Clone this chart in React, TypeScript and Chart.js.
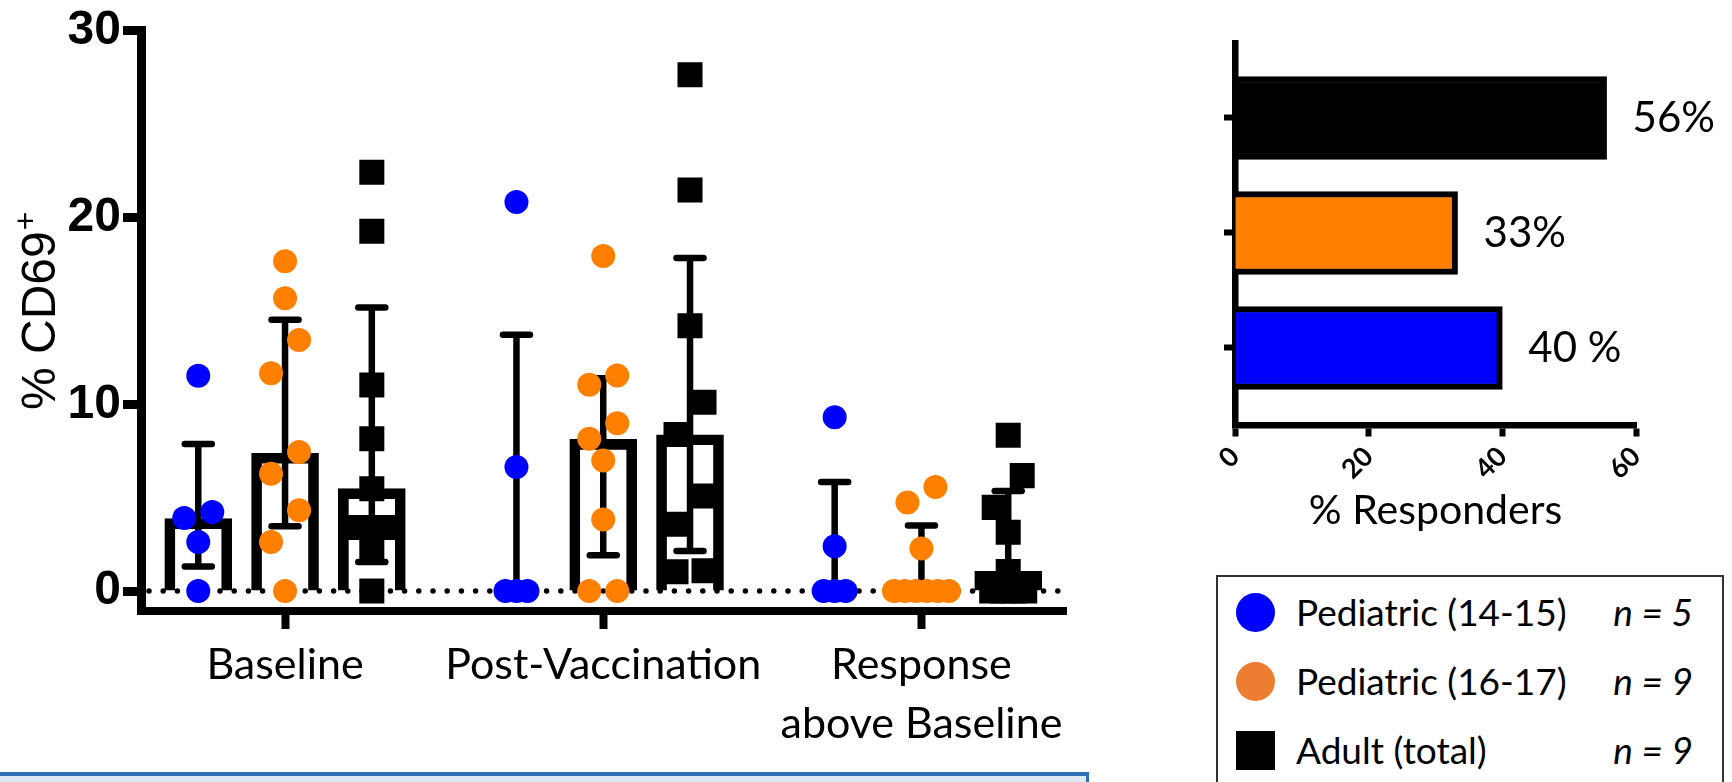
import React, { useEffect, useRef } from 'react';
import { Chart, registerables } from 'chart.js';

Chart.register(...registerables);

// ---------------- data ----------------
const categoryLabels: string[][] = [['Baseline'], ['Post-Vaccination'], ['Response', 'above Baseline']];
const seriesLabels = ['Pediatric (14-15)', 'Pediatric (16-17)', 'Adult (total)'];
const seriesN = ['n = 5', 'n = 9', 'n = 9'];
const seriesColors = ['#0000FF', '#FF8000', '#000000'];
const legendColors = ['#0000FF', '#ED7D31', '#000000'];
const yTitleMain = '% CD69';
const yTitleSup = '+';

const yTicks = [0, 10, 20, 30];
const responderTicks = [0, 20, 40, 60];

// individual values per category (Baseline, Post-Vaccination, Response above Baseline)
const ped1415Points = [
  [11.53, 4.23, 3.91, 2.63, 0],
  [20.83, 6.64, 0, 0, 0],
  [9.31, 2.4, 0, 0, 0],
];
const ped1617Points = [
  [17.66, 15.68, 13.44, 11.66, 7.44, 6.28, 4.32, 2.63, 0],
  [17.94, 11.54, 11.04, 8.99, 8.15, 6.99, 3.83, 0, 0],
  [5.57, 4.74, 2.28, 0, 0, 0, 0, 0, 0],
];
const adultPoints = [
  [22.43, 19.27, 11.03, 8.15, 5.48, 3.4, 3.4, 2.37, 0],
  [27.65, 21.48, 14.2, 10.11, 8.38, 5.09, 3.58, 1.08, 1.03],
  [8.34, 6.18, 4.48, 3.15, 1.05, 0, 0, 0, 0],
];

// bar heights (median)
const ped1415Bar = [3.88, 0, 0];
const ped1617Bar = [7.38, 8.12, 0];
const adultBar = [5.48, 8.37, 1.05];

// error bar ends (upper / lower; null = no lower cap)
const ped1415ErrHi = [7.87, 13.72, 5.84];
const ped1617ErrHi = [14.52, 11.39, 3.51];
const adultErrHi = [15.18, 17.83, 5.36];
const ped1415ErrLo: (number | null)[] = [1.31, null, null];
const ped1617ErrLo: (number | null)[] = [3.47, 1.92, null];
const adultErrLo: (number | null)[] = [1.55, 2.14, null];

// right panel: % responders (Ped 14-15, Ped 16-17, Adult)
const responderValues = [40, 33.3, 55.6];
const responderLabels = ['40 %', '33%', '56%'];

// ---------------- layout constants ----------------
const L_W = 1100;
const L_H = 770;
const L_AREA_LEFT = 141;
const L_AREA_RIGHT = 1066;
const L_AREA_TOP = 29;
const L_AREA_BOTTOM = 611;
const X_MIN = -1.66;
const X_MAX = 9.0;
const Y_MIN = -1.07;
const Y_MAX = 30;
const GROUP_STEP = 3.667;

const R_LEFT = 1100;
const R_W = 632;
const R_H = 560;

// beeswarm-like horizontal spreading, in pixels
function swarmOffsets(values: number[]): number[] {
  const idx = values.map((_, i) => i).sort((a, b) => values[b] - values[a]);
  const offsets = new Array(values.length).fill(0);
  let i = 0;
  while (i < idx.length) {
    const cluster = [idx[i]];
    let j = i + 1;
    while (j < idx.length && Math.abs(values[idx[j]] - values[idx[i]]) < 0.06) {
      cluster.push(idx[j]);
      j++;
    }
    if (cluster.length === 1 && j < idx.length && values[idx[i]] - values[idx[j]] < 1.8) {
      const nextEqual = j + 1 < idx.length && Math.abs(values[idx[j + 1]] - values[idx[j]]) < 0.06;
      if (!nextEqual) {
        cluster.push(idx[j]);
        j++;
      }
    }
    const k = cluster.length;
    cluster.forEach((p, n) => {
      if (k === 2) offsets[p] = n === 0 ? 14 : -14;
      else offsets[p] = (n - (k - 1) / 2) * 11;
    });
    i = j;
  }
  return offsets;
}

function LeftChart() {
  const ref = useRef<HTMLCanvasElement>(null);
  useEffect(() => {
    const allPoints = [ped1415Points, ped1617Points, adultPoints];
    const bars = [ped1415Bar, ped1617Bar, adultBar];
    const his = [ped1415ErrHi, ped1617ErrHi, adultErrHi];
    const los = [ped1415ErrLo, ped1617ErrLo, adultErrLo];
    const colPos = (g: number, s: number) => g * GROUP_STEP + (s - 1);
    const pxPerUnit = (L_AREA_RIGHT - L_AREA_LEFT) / (X_MAX - X_MIN);

    const barData: { x: number; y: number }[] = [];
    const errData: { x: number; hi: number; lo: number | null }[] = [];
    for (let g = 0; g < 3; g++) {
      for (let s = 0; s < 3; s++) {
        barData.push({ x: colPos(g, s), y: bars[s][g] });
        errData.push({ x: colPos(g, s), hi: his[s][g], lo: los[s][g] });
      }
    }

    const scatterSets = allPoints.map((series, s) => {
      const data: { x: number; y: number }[] = [];
      series.forEach((vals, g) => {
        const offs = swarmOffsets(vals);
        vals.forEach((v, i) => data.push({ x: colPos(g, s) + offs[i] / pxPerUnit, y: v }));
      });
      return {
        type: 'scatter' as const,
        label: seriesLabels[s],
        data,
        pointStyle: s === 2 ? 'rect' : 'circle',
        pointRadius: s === 2 ? 17.7 : 12,
        pointHoverRadius: s === 2 ? 17.7 : 12,
        backgroundColor: seriesColors[s],
        borderWidth: 0,
        order: 1,
      };
    });

    const decor = {
      id: 'leftDecor',
      afterDatasetDraw(chart: any, args: any) {
        if (args.index !== 0) return;
        const { ctx, chartArea } = chart;
        const x = chart.scales.x;
        const y = chart.scales.y;
        const y0 = y.getPixelForValue(0);
        ctx.save();
        ctx.strokeStyle = '#000';
        // dotted zero line
        ctx.beginPath();
        ctx.setLineDash([0, 14.2]);
        ctx.lineCap = 'round';
        ctx.lineWidth = 5.5;
        ctx.moveTo(chartArea.left + 8, y0);
        ctx.lineTo(chartArea.right, y0);
        ctx.stroke();
        ctx.setLineDash([]);
        // error bars
        ctx.lineWidth = 6.5;
        errData.forEach((e) => {
          const px = x.getPixelForValue(e.x);
          const top = y.getPixelForValue(e.hi);
          const bot = y.getPixelForValue(e.lo === null ? 0 : e.lo);
          ctx.lineCap = 'butt';
          ctx.beginPath();
          ctx.moveTo(px, top);
          ctx.lineTo(px, bot);
          ctx.stroke();
          ctx.lineCap = 'round';
          ctx.beginPath();
          ctx.moveTo(px - 13.5, top);
          ctx.lineTo(px + 13.5, top);
          if (e.lo !== null) {
            ctx.moveTo(px - 13.5, bot);
            ctx.lineTo(px + 13.5, bot);
          }
          ctx.stroke();
        });
        ctx.restore();
      },
      afterDraw(chart: any) {
        // y-axis title with superscript
        const { ctx } = chart;
        ctx.save();
        ctx.translate(55, 410);
        ctx.rotate(-Math.PI / 2);
        ctx.fillStyle = '#000';
        ctx.textAlign = 'left';
        ctx.textBaseline = 'alphabetic';
        ctx.font = '48px "Liberation Sans"';
        ctx.fillText(yTitleMain, 0, 0);
        const w = ctx.measureText(yTitleMain).width;
        ctx.font = '32px "Liberation Sans"';
        ctx.fillText(yTitleSup, w + 1, -19);
        ctx.restore();
      },
    };

    const chart = new Chart(ref.current!, {
      type: 'scatter',
      data: {
        datasets: [
          {
            type: 'bar' as const,
            label: 'median',
            data: barData,
            backgroundColor: 'rgba(0,0,0,0)',
            borderColor: '#000',
            borderWidth: 10,
            borderSkipped: 'start',
            barThickness: 67,
            order: 10,
          } as any,
          ...(scatterSets as any[]),
        ],
      },
      options: {
        responsive: false,
        animation: false,
        events: [],
        layout: { padding: { top: L_AREA_TOP, right: L_W - L_AREA_RIGHT, left: 0, bottom: 0 } },
        plugins: { legend: { display: false }, tooltip: { enabled: false } },
        scales: {
          x: {
            type: 'linear',
            min: X_MIN,
            max: X_MAX,
            offset: false,
            afterBuildTicks: (sc: any) => {
              sc.ticks = categoryLabels.map((_, g) => ({ value: g * GROUP_STEP }));
            },
            afterFit: (sc: any) => {
              sc.height = L_H - L_AREA_BOTTOM;
            },
            ticks: {
              autoSkip: false,
              maxRotation: 0,
              minRotation: 0,
              padding: 6,
              color: '#000',
              font: { family: 'Lato', size: 43, lineHeight: 1.38 },
              callback: (_v: any, i: number) => categoryLabels[i],
            },
            grid: { drawOnChartArea: false, drawTicks: true, tickLength: 18, tickWidth: 8, tickColor: '#000', offset: false },
            border: { display: true, width: 8, color: '#000' },
          },
          y: {
            type: 'linear',
            min: Y_MIN,
            max: Y_MAX,
            afterBuildTicks: (sc: any) => {
              sc.ticks = yTicks.map((v) => ({ value: v }));
            },
            afterFit: (sc: any) => {
              sc.width = L_AREA_LEFT;
            },
            ticks: {
              padding: 2,
              color: '#000',
              font: { family: 'Liberation Sans', size: 48, weight: 'bold' },
            },
            grid: { drawOnChartArea: false, drawTicks: true, tickLength: 18, tickWidth: 9, tickColor: '#000' },
            border: { display: true, width: 9, color: '#000' },
            title: { display: false },
          },
        },
      } as any,
      plugins: [decor],
    });
    return () => chart.destroy();
  }, []);
  return (
    <canvas
      ref={ref}
      width={L_W}
      height={L_H}
      style={{ position: 'absolute', left: 0, top: 0, width: L_W, height: L_H }}
    />
  );
}

function RightChart() {
  const ref = useRef<HTMLCanvasElement>(null);
  useEffect(() => {
    const labelsPlugin = {
      id: 'barLabels',
      afterDatasetsDraw(chart: any) {
        const { ctx } = chart;
        const meta = chart.getDatasetMeta(0);
        ctx.save();
        ctx.fillStyle = '#000';
        ctx.font = '42px Lato';
        ctx.textAlign = 'left';
        ctx.textBaseline = 'middle';
        meta.data.forEach((el: any, i: number) => {
          ctx.fillText(responderLabels[i], el.x + 26, el.y);
        });
        ctx.restore();
      },
    };
    const chart = new Chart(ref.current!, {
      type: 'bar',
      data: {
        datasets: [
          {
            label: '% Responders',
            data: responderValues.map((v, i) => ({ x: v, y: i })),
            backgroundColor: seriesColors,
            borderColor: '#000',
            borderWidth: 6,
            borderSkipped: 'start',
            barThickness: 83,
          } as any,
        ],
      },
      options: {
        indexAxis: 'y',
        responsive: false,
        animation: false,
        events: [],
        layout: { padding: { top: 43, right: R_W - 536, left: 0, bottom: 0 } },
        plugins: { legend: { display: false }, tooltip: { enabled: false } },
        scales: {
          x: {
            type: 'linear',
            min: 0,
            max: 60,
            offset: false,
            afterBuildTicks: (sc: any) => {
              sc.ticks = responderTicks.map((v) => ({ value: v }));
            },
            afterFit: (sc: any) => {
              sc.height = R_H - 425.5;
            },
            ticks: {
              minRotation: 45,
              maxRotation: 45,
              padding: 4,
              color: '#000',
              font: { family: 'Lato', size: 27, weight: 'bold' },
            },
            grid: { drawOnChartArea: false, drawTicks: true, tickLength: 11, tickWidth: 6, tickColor: '#000', offset: false },
            border: { display: true, width: 6.5, color: '#000' },
            title: {
              display: true,
              text: '% Responders',
              color: '#000',
              font: { family: 'Lato', size: 41 },
              padding: { top: 0, bottom: 25 },
            },
          },
          y: {
            type: 'linear',
            min: -0.674,
            max: 2.652,
            offset: false,
            afterBuildTicks: (sc: any) => {
              sc.ticks = [0, 1, 2].map((v) => ({ value: v }));
            },
            afterFit: (sc: any) => {
              sc.width = 135;
            },
            ticks: { callback: () => '', padding: 0 },
            grid: { drawOnChartArea: false, drawTicks: true, tickLength: 11, tickWidth: 6, tickColor: '#000', offset: false },
            border: { display: true, width: 6.5, color: '#000' },
          },
        },
      } as any,
      plugins: [labelsPlugin],
    });
    return () => chart.destroy();
  }, []);
  return (
    <canvas
      ref={ref}
      width={R_W}
      height={R_H}
      style={{ position: 'absolute', left: R_LEFT, top: 0, width: R_W, height: R_H }}
    />
  );
}

function Legend() {
  return (
    <div
      style={{
        position: 'absolute',
        left: 1216,
        top: 575,
        width: 508,
        height: 260,
        border: '2px solid #333',
        boxSizing: 'border-box',
        fontFamily: 'Lato',
        fontSize: 37,
        color: '#000',
      }}
    >
      {seriesLabels.map((lab, i) => (
        <div
          key={lab}
          style={{
            position: 'absolute',
            left: 0,
            right: 0,
            top: 35 + i * 69 - 25,
            height: 50,
          }}
        >
          <div
            style={{
              position: 'absolute',
              left: 18,
              top: 5.5,
              width: 39,
              height: 39,
              background: legendColors[i],
              borderRadius: i === 2 ? 0 : '50%',
            }}
          />
          <span style={{ position: 'absolute', left: 78, top: 0, whiteSpace: 'nowrap', lineHeight: '50px' }}>{lab}</span>
          <span
            style={{
              position: 'absolute',
              right: 29,
              top: 0,
              whiteSpace: 'nowrap',
              fontStyle: 'italic',
              lineHeight: '50px',
            }}
          >
            {seriesN[i]}
          </span>
        </div>
      ))}
    </div>
  );
}

export default function App() {
  return (
    <div
      style={{
        position: 'fixed',
        left: 0,
        top: 0,
        width: 1732,
        height: 782,
        overflow: 'hidden',
        background: '#fff',
      }}
    >
      <LeftChart />
      <RightChart />
      <Legend />
      <div
        style={{
          position: 'absolute',
          left: 0,
          top: 772,
          width: 1089,
          height: 40,
          background: '#DDEAF6',
          borderTop: '4px solid #2E6FB5',
          borderRight: '3px solid #2E6FB5',
          boxSizing: 'border-box',
        }}
      />
    </div>
  );
}
